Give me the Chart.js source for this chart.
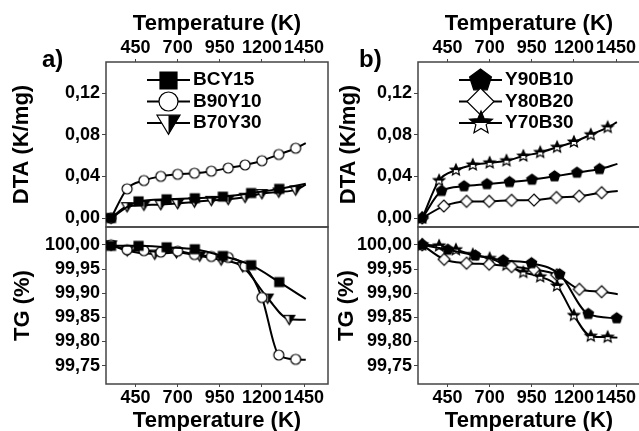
<!DOCTYPE html>
<html><head><meta charset="utf-8">
<script src="https://cdn.jsdelivr.net/npm/chart.js@4.4.1/dist/chart.umd.min.js"></script>
<style>
html,body{margin:0;padding:0;background:#fff;overflow:hidden;width:639px;height:431px;position:relative}
canvas{position:absolute}
</style></head><body>
<canvas id="aTop" width="342" height="241" style="left:0;top:0"></canvas>
<canvas id="bTop" width="342" height="241" style="left:312px;top:0"></canvas>
<canvas id="aBot" width="342" height="231" style="left:0;top:213px"></canvas>
<canvas id="bBot" width="342" height="231" style="left:312px;top:213px"></canvas>
<script>
// axis ticks
const xTicks=[450,700,950,1200,1450]
const dtaTicks=[0,0.04,0.08,0.12]
const tgTicks=[99.75,99.80,99.85,99.90,99.95,100.00]

// panel a) DTA (K/mg)
const bcy15DtaT=[305,468,635,802,968,1136,1303,1460]
const bcy15Dta=[0,0.016,0.018,0.019,0.0205,0.024,0.028,0.033]
const b90y10DtaT=[305,400,500,600,700,800,900,1000,1100,1200,1300,1400,1460]
const b90y10Dta=[0,0.028,0.036,0.040,0.042,0.043,0.045,0.048,0.051,0.055,0.061,0.067,0.072]
const b70y30DtaT=[305,400,500,600,700,800,900,1000,1100,1200,1300,1400,1460]
const b70y30Dta=[0,0.011,0.0125,0.013,0.014,0.0155,0.017,0.018,0.020,0.0235,0.025,0.027,0.032]
// panel a) TG (%)
const bcy15TgT=[305,468,635,802,968,1136,1303,1460]
const bcy15Tg=[99.998,99.998,99.995,99.991,99.977,99.958,99.923,99.888]
const b90y10TgT=[305,400,500,600,700,800,900,1000,1100,1200,1300,1400,1460]
const b90y10Tg=[100.0,99.990,99.988,99.985,99.987,99.980,99.976,99.974,99.956,99.891,99.772,99.763,99.762]
const b70y30TgT=[305,401,564,693,831,958,1086,1234,1362,1460]
const b70y30Tg=[100.0,99.988,99.981,99.984,99.977,99.969,99.955,99.890,99.846,99.845]

// panel b) DTA (K/mg)
const y90b10DtaT=[300,415,548,684,818,951,1085,1218,1352,1458]
const y90b10Dta=[0,0.026,0.0305,0.0325,0.0345,0.0368,0.040,0.0435,0.047,0.052]
const y80b20DtaT=[300,428,563,697,830,963,1096,1231,1364,1460]
const y80b20Dta=[0,0.0115,0.016,0.016,0.017,0.0172,0.0197,0.021,0.0243,0.026]
const y70b30DtaT=[300,400,500,600,700,800,900,1000,1100,1200,1300,1400,1455]
const y70b30Dta=[0,0.036,0.046,0.051,0.053,0.055,0.0595,0.063,0.068,0.073,0.080,0.087,0.092]
// panel b) TG (%)
const y90b10TgT=[300,452,615,780,948,1115,1285,1454]
const y90b10Tg=[100.0,99.990,99.978,99.968,99.962,99.939,99.857,99.848]
const y80b20TgT=[300,430,563,697,830,963,1098,1232,1364,1460]
const y80b20Tg=[100.0,99.970,99.962,99.960,99.955,99.949,99.938,99.908,99.903,99.898]
const y70b30TgT=[300,400,500,600,700,800,900,1000,1100,1200,1300,1400,1458]
const y70b30Tg=[100.0,99.998,99.990,99.980,99.972,99.958,99.943,99.934,99.915,99.854,99.811,99.809,99.808]

const FAM='"Liberation Sans", Arial, sans-serif'
const tickFont={family:FAM,size:18,weight:'bold'}
const titleFont={family:FAM,size:22,weight:'bold'}

function marker(kind,s){
  const c=document.createElement('canvas'),m=Math.ceil(s+4);c.width=c.height=m
  const g=c.getContext('2d'),h=m/2,r=s/2
  g.lineWidth=1.2;g.strokeStyle='#000';g.beginPath()
  if(kind==='square')g.rect(h-r,h-r,s,s)
  else if(kind==='circle')g.arc(h,h,r,0,Math.PI*2)
  else if(kind==='diamond'){g.moveTo(h,h-r);g.lineTo(h+r,h);g.lineTo(h,h+r);g.lineTo(h-r,h);g.closePath()}
  else if(kind==='tri'){g.moveTo(h-r,h-r*0.72);g.lineTo(h+r,h-r*0.72);g.lineTo(h,h+r*0.95);g.closePath()}
  else{
    const n=kind==='pent'?5:10
    for(let i=0;i<n;i++){const a=-Math.PI/2+i*2*Math.PI/n,rr=(kind==='star'&&i%2)?r*0.45:r;g.lineTo(h+rr*Math.cos(a),h+rr*Math.sin(a))}
    g.closePath()
  }
  g.fillStyle=(kind==='square'||kind==='pent')?'#000':'#fff';g.fill()
  if(kind==='tri'||kind==='star'){g.save();g.clip();g.fillStyle='#000';if(kind==='tri')g.fillRect(h,0,m,m);else g.fillRect(0,0,m,h);g.restore()}
  g.stroke()
  return c
}

function ds(label,t,v,mark,endMark){
  return{label,data:t.map((x,i)=>({x,y:v[i]})),borderColor:'#000',borderWidth:2,pointStyle:mark,
    pointRadius:c=>(!endMark&&c.dataIndex===t.length-1)?0:5,cubicInterpolationMode:'monotone',fill:false}
}

function xScale(pos,h){
  return{type:'linear',position:pos,min:275,max:1592,
    afterBuildTicks:s=>{s.ticks=xTicks.map(v=>({value:v}))},
    afterFit:s=>{s.height=h},
    grid:{drawOnChartArea:false,tickLength:3,color:'#444'},border:{display:false},
    ticks:{autoSkip:false,maxRotation:0,minRotation:0,padding:0,color:'#000',font:tickFont,callback:v=>String(v)},
    title:{display:true,text:'Temperature (K)',color:'#000',font:titleFont,
      padding:pos==='top'?{top:10.8,bottom:0}:{top:0,bottom:9.8}}}
}
function yScale(tk,min,max,text,tp){
  return{type:'linear',position:'left',min,max,
    afterBuildTicks:s=>{s.ticks=tk.map(v=>({value:v}))},
    afterFit:s=>{s.width=106},
    grid:{drawOnChartArea:false,tickLength:4,color:'#444'},border:{display:false},
    ticks:{padding:2,color:'#000',font:tickFont,callback:v=>v.toFixed(2).replace('.',',')},
    title:{display:true,text,color:'#000',font:titleFont,padding:{top:tp,bottom:0}}}
}

function frame(tag,tx){
  return{id:'frame',beforeDatasetsDraw(ch){
    const {ctx,chartArea:ca}=ch
    ctx.save();ctx.strokeStyle='#444';ctx.lineWidth=1.5
    ctx.strokeRect(ca.left,ca.top,ca.right-ca.left,ca.bottom-ca.top)
    if(tag){ctx.fillStyle='#000';ctx.font='bold 24px '+FAM;ctx.textBaseline='alphabetic';ctx.fillText(tag,tx,67)}
    ctx.restore()
  }}
}
function legend(marks){
  return{id:'leg',afterDatasetsDraw(ch){
    const {ctx,chartArea:ca}=ch
    ch.data.datasets.forEach((d,i)=>{
      const y=ca.top+18+i*21.5,x0=ca.left+41,img=marks[i]
      ctx.save();ctx.strokeStyle='#000';ctx.lineWidth=2
      ctx.beginPath();ctx.moveTo(x0,y);ctx.lineTo(x0+43,y);ctx.stroke()
      ctx.drawImage(img,Math.round(x0+21.5-img.width/2),Math.round(y-img.height/2))
      ctx.fillStyle='#000';ctx.font='bold 19px '+FAM;ctx.textBaseline='middle';ctx.fillText(d.label,x0+46,y)
      ctx.restore()
    })
  }}
}

function make(id,datasets,scales,padding,plugins){
  new Chart(document.getElementById(id),{type:'line',data:{datasets},
    options:{responsive:false,animation:false,events:[],devicePixelRatio:1,layout:{padding},
      plugins:{legend:{display:false},tooltip:{enabled:false}},scales},plugins})
}

const mk={
  sq:marker('square',9),ci:marker('circle',10),tr:marker('tri',11),
  pe:marker('pent',11),di:marker('diamond',12),st:marker('star',12)
}
const lg={
  sq:marker('square',17),ci:marker('circle',19),tr:marker('tri',23),
  pe:marker('pent',23),di:marker('diamond',27),st:marker('star',24)
}

make('aTop',[
  ds('BCY15',bcy15DtaT,bcy15Dta,mk.sq),
  ds('B90Y10',b90y10DtaT,b90y10Dta,mk.ci),
  ds('B70Y30',b70y30DtaT,b70y30Dta,mk.tr)
],{x:xScale('top',62),y:yScale(dtaTicks,-0.0086,0.1498,'DTA (K/mg)',8.8)},
{top:0,left:0,right:14,bottom:14},[frame('a)',42),legend([lg.sq,lg.ci,lg.tr])])

make('bTop',[
  ds('Y90B10',y90b10DtaT,y90b10Dta,mk.pe),
  ds('Y80B20',y80b20DtaT,y80b20Dta,mk.di),
  ds('Y70B30',y70b30DtaT,y70b30Dta,mk.st)
],{x:xScale('top',62),y:yScale(dtaTicks,-0.0086,0.1498,'DTA (K/mg)',23.8)},
{top:0,left:0,right:14,bottom:14},[frame('b)',47),legend([lg.pe,lg.di,lg.st])])

make('aBot',[
  ds('BCY15',bcy15TgT,bcy15Tg,mk.sq),
  ds('B90Y10',b90y10TgT,b90y10Tg,mk.ci),
  ds('B70Y30',b70y30TgT,b70y30Tg,mk.tr)
],{x:xScale('bottom',60),y:yScale(tgTicks,99.712,100.037,'TG (%)',9.8)},
{top:14,left:0,right:14,bottom:0},[frame()])

make('bBot',[
  ds('Y90B10',y90b10TgT,y90b10Tg,mk.pe,true),
  ds('Y80B20',y80b20TgT,y80b20Tg,mk.di),
  ds('Y70B30',y70b30TgT,y70b30Tg,mk.st)
],{x:xScale('bottom',60),y:yScale(tgTicks,99.712,100.037,'TG (%)',21.8)},
{top:14,left:0,right:14,bottom:0},[frame()])
</script>
</body></html>
